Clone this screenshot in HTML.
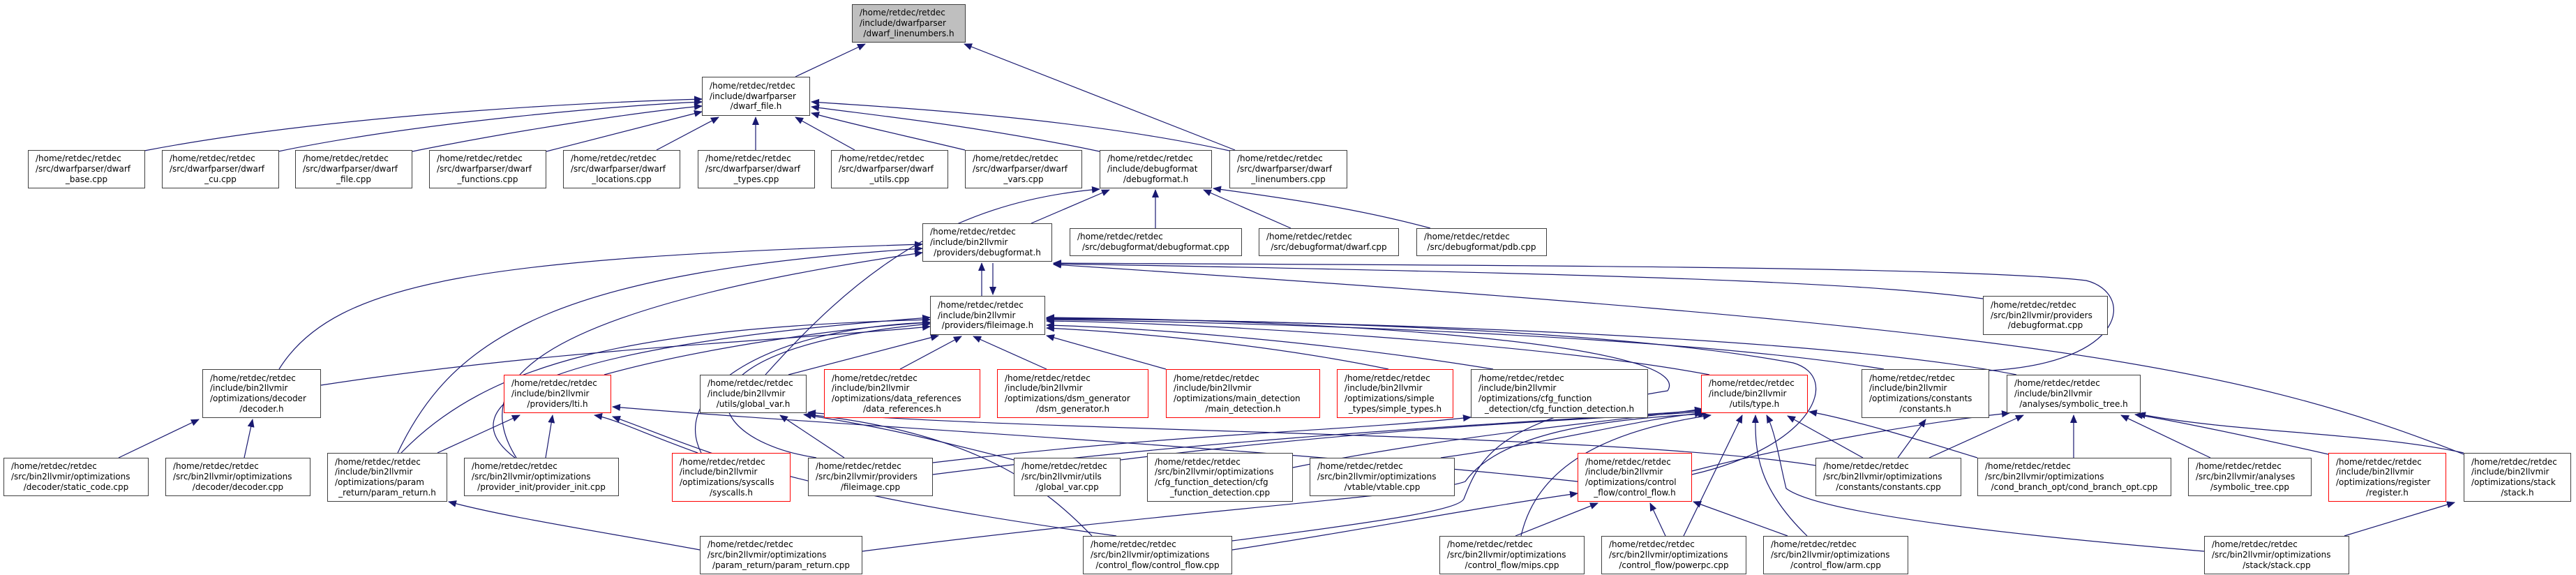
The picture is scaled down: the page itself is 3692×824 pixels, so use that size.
<!DOCTYPE html>
<html><head><meta charset="utf-8"><style>
body{margin:0;background:#fff;}
#c{position:relative;width:3692px;height:824px;overflow:hidden;background:#fff;font-family:"DejaVu Sans","Liberation Sans",sans-serif;font-size:12px;color:#000;}
.n{position:absolute;box-sizing:border-box;border:1px solid #404040;background:#fff;display:flex;flex-direction:column;justify-content:center;padding:0 10px;line-height:14.7px;white-space:nowrap;}
.n div:last-child{text-align:center;}
.r{border-color:#ff0000;}
.g{background:#bfbfbf;}
svg{position:absolute;left:0;top:0;}
</style></head><body><div id="c">
<svg width="3692" height="824" viewBox="0 0 3692 824">
<defs><marker id="a" markerWidth="12" markerHeight="10" refX="11" refY="5" orient="auto" markerUnits="userSpaceOnUse"><path d="M0,0 L12,5 L0,10 z" fill="#191970"/></marker></defs>
<g fill="none" stroke="#191970" stroke-width="1.2" marker-end="url(#a)">
<path d="M1140,110 L1240,63"/>
<path d="M1770,215 L1382,63"/>
<path d="M207,216 C500,160 900,145 1006,142"/>
<path d="M399,217 C600,175 900,150 1006,146"/>
<path d="M591,217 C750,185 920,160 1006,152"/>
<path d="M783,217 C870,195 960,172 1006,160"/>
<path d="M941,215 L1030,168"/>
<path d="M1083,215 L1083,168"/>
<path d="M1225,215 L1140,168"/>
<path d="M1383,215 C1300,195 1220,178 1163,162"/>
<path d="M1576,217 C1400,180 1250,165 1163,153"/>
<path d="M1762,216 C1550,170 1300,155 1163,146"/>
<path d="M1478,320 L1590,272"/>
<path d="M1656,327 L1656,272"/>
<path d="M1850,327 L1725,272"/>
<path d="M2050,327 C1950,300 1850,285 1739,270"/>
<path d="M1097,537 C1220,400 1350,290 1576,271"/>
<path d="M1407,424 L1407,377"/>
<path d="M1423,377 L1423,422"/>
<path d="M400,529 C480,400 700,370 1322,350"/>
<path d="M570,649 C650,480 800,390 1322,356"/>
<path d="M740,656 C680,560 720,450 1322,362"/>
<path d="M2842,428 C2700,410 2500,395 1510,378"/>
<path d="M2851,531 C3050,520 3060,420 2990,402 C2800,380 2000,380 1510,377"/>
<path d="M3531,651 C3200,520 2900,470 1510,379"/>
<path d="M460,552 C800,500 1100,490 1333,468"/>
<path d="M866,537 C1000,500 1200,470 1333,462"/>
<path d="M575,649 C700,520 900,470 1333,458"/>
<path d="M738,656 C650,590 720,500 1333,455"/>
<path d="M1005,649 C960,560 1100,470 1333,462"/>
<path d="M1170,656 C1000,630 950,500 1333,464"/>
<path d="M1130,537 L1345,481"/>
<path d="M1290,529 L1378,482"/>
<path d="M1500,529 L1395,482"/>
<path d="M1671,529 L1500,481"/>
<path d="M1990,529 C1800,490 1600,475 1500,470"/>
<path d="M2140,529 C1900,490 1650,470 1500,466"/>
<path d="M2450,537 C2200,490 1700,462 1500,460"/>
<path d="M2700,529 C2400,480 1800,462 1500,458"/>
<path d="M2890,537 C2600,480 1900,460 1500,456"/>
<path d="M2425,680 C2600,640 2640,540 2570,520 C2300,470 1800,458 1500,457"/>
<path d="M1766,775 C2000,745 2090,730 2098,715 C2120,660 2140,600 2390,560 C2430,500 2000,460 1500,455"/>
<path d="M1210,656 L1118,595"/>
<path d="M1453,659 C1300,620 1250,610 1152,594"/>
<path d="M1565,768 C1500,700 1400,620 1158,594"/>
<path d="M2602,667 C2300,620 1500,620 1158,591"/>
<path d="M627,649 L745,595"/>
<path d="M782,656 L792,595"/>
<path d="M1000,649 C920,620 880,600 852,595"/>
<path d="M1600,768 C1100,700 1000,640 878,597"/>
<path d="M2261,690 C1800,640 1200,610 878,583"/>
<path d="M2065,656 C2250,630 2350,600 2440,592"/>
<path d="M1606,659 C2000,610 2300,600 2440,590"/>
<path d="M1337,680 C1800,620 2300,600 2440,588"/>
<path d="M1853,670 C2100,620 2350,600 2440,586"/>
<path d="M1236,790 C1700,730 2050,710 2100,690 C2150,620 2300,600 2445,593"/>
<path d="M2180,768 C2200,680 2280,620 2452,595"/>
<path d="M2413,768 L2497,595"/>
<path d="M2590,768 C2520,700 2515,650 2516,595"/>
<path d="M3159,790 C2800,760 2600,730 2560,700 C2550,660 2545,620 2532,595"/>
<path d="M2670,656 L2562,596"/>
<path d="M2834,656 C2750,630 2650,600 2593,590"/>
<path d="M2172,768 L2290,721"/>
<path d="M2387,768 L2365,721"/>
<path d="M2562,768 L2427,719"/>
<path d="M1766,788 C1950,760 2100,730 2261,707"/>
<path d="M2972,656 L2972,595"/>
<path d="M3168,656 L3040,595"/>
<path d="M3337,651 C3200,620 3100,600 3060,594"/>
<path d="M3531,649 C3400,620 3200,620 3064,593"/>
<path d="M2765,656 L2900,595"/>
<path d="M2425,675 C2600,630 2800,600 2880,592"/>
<path d="M2720,656 L2760,601"/>
<path d="M170,656 L285,601"/>
<path d="M350,656 L362,601"/>
<path d="M1003,788 C850,760 720,740 643,719"/>
<path d="M3360,768 L3518,720"/>
<path d="M1337,663 C1700,620 1900,620 2108,598"/>
</g></svg>

<div class="n g" style="left:1221px;top:6px;width:163px;height:55px"><div>/home/retdec/retdec</div><div>/include/dwarfparser</div><div>/dwarf_linenumbers.h</div></div>
<div class="n" style="left:1006px;top:110px;width:155px;height:56px"><div>/home/retdec/retdec</div><div>/include/dwarfparser</div><div>/dwarf_file.h</div></div>
<div class="n" style="left:40px;top:215px;width:168px;height:55px"><div>/home/retdec/retdec</div><div>/src/dwarfparser/dwarf</div><div>_base.cpp</div></div>
<div class="n" style="left:232px;top:215px;width:168px;height:55px"><div>/home/retdec/retdec</div><div>/src/dwarfparser/dwarf</div><div>_cu.cpp</div></div>
<div class="n" style="left:423px;top:215px;width:168px;height:55px"><div>/home/retdec/retdec</div><div>/src/dwarfparser/dwarf</div><div>_file.cpp</div></div>
<div class="n" style="left:615px;top:215px;width:168px;height:55px"><div>/home/retdec/retdec</div><div>/src/dwarfparser/dwarf</div><div>_functions.cpp</div></div>
<div class="n" style="left:807px;top:215px;width:168px;height:55px"><div>/home/retdec/retdec</div><div>/src/dwarfparser/dwarf</div><div>_locations.cpp</div></div>
<div class="n" style="left:1000px;top:215px;width:168px;height:55px"><div>/home/retdec/retdec</div><div>/src/dwarfparser/dwarf</div><div>_types.cpp</div></div>
<div class="n" style="left:1191px;top:215px;width:168px;height:55px"><div>/home/retdec/retdec</div><div>/src/dwarfparser/dwarf</div><div>_utils.cpp</div></div>
<div class="n" style="left:1383px;top:215px;width:168px;height:55px"><div>/home/retdec/retdec</div><div>/src/dwarfparser/dwarf</div><div>_vars.cpp</div></div>
<div class="n" style="left:1576px;top:215px;width:161px;height:55px"><div>/home/retdec/retdec</div><div>/include/debugformat</div><div>/debugformat.h</div></div>
<div class="n" style="left:1762px;top:215px;width:169px;height:55px"><div>/home/retdec/retdec</div><div>/src/dwarfparser/dwarf</div><div>_linenumbers.cpp</div></div>
<div class="n" style="left:1322px;top:320px;width:186px;height:55px"><div>/home/retdec/retdec</div><div>/include/bin2llvmir</div><div>/providers/debugformat.h</div></div>
<div class="n" style="left:1533px;top:327px;width:247px;height:40px"><div>/home/retdec/retdec</div><div>/src/debugformat/debugformat.cpp</div></div>
<div class="n" style="left:1804px;top:327px;width:201px;height:40px"><div>/home/retdec/retdec</div><div>/src/debugformat/dwarf.cpp</div></div>
<div class="n" style="left:2030px;top:327px;width:187px;height:40px"><div>/home/retdec/retdec</div><div>/src/debugformat/pdb.cpp</div></div>
<div class="n" style="left:1333px;top:424px;width:165px;height:56px"><div>/home/retdec/retdec</div><div>/include/bin2llvmir</div><div>/providers/fileimage.h</div></div>
<div class="n" style="left:2842px;top:424px;width:179px;height:56px"><div>/home/retdec/retdec</div><div>/src/bin2llvmir/providers</div><div>/debugformat.cpp</div></div>
<div class="n" style="left:290px;top:529px;width:170px;height:70px"><div>/home/retdec/retdec</div><div>/include/bin2llvmir</div><div>/optimizations/decoder</div><div>/decoder.h</div></div>
<div class="n r" style="left:722px;top:537px;width:154px;height:55px"><div>/home/retdec/retdec</div><div>/include/bin2llvmir</div><div>/providers/lti.h</div></div>
<div class="n" style="left:1003px;top:537px;width:153px;height:55px"><div>/home/retdec/retdec</div><div>/include/bin2llvmir</div><div>/utils/global_var.h</div></div>
<div class="n r" style="left:1181px;top:529px;width:224px;height:70px"><div>/home/retdec/retdec</div><div>/include/bin2llvmir</div><div>/optimizations/data_references</div><div>/data_references.h</div></div>
<div class="n r" style="left:1429px;top:529px;width:217px;height:70px"><div>/home/retdec/retdec</div><div>/include/bin2llvmir</div><div>/optimizations/dsm_generator</div><div>/dsm_generator.h</div></div>
<div class="n r" style="left:1671px;top:529px;width:221px;height:70px"><div>/home/retdec/retdec</div><div>/include/bin2llvmir</div><div>/optimizations/main_detection</div><div>/main_detection.h</div></div>
<div class="n r" style="left:1916px;top:529px;width:167px;height:70px"><div>/home/retdec/retdec</div><div>/include/bin2llvmir</div><div>/optimizations/simple</div><div>_types/simple_types.h</div></div>
<div class="n" style="left:2108px;top:529px;width:254px;height:70px"><div>/home/retdec/retdec</div><div>/include/bin2llvmir</div><div>/optimizations/cfg_function</div><div>_detection/cfg_function_detection.h</div></div>
<div class="n r" style="left:2438px;top:537px;width:153px;height:55px"><div>/home/retdec/retdec</div><div>/include/bin2llvmir</div><div>/utils/type.h</div></div>
<div class="n" style="left:2668px;top:529px;width:183px;height:70px"><div>/home/retdec/retdec</div><div>/include/bin2llvmir</div><div>/optimizations/constants</div><div>/constants.h</div></div>
<div class="n" style="left:2876px;top:537px;width:192px;height:55px"><div>/home/retdec/retdec</div><div>/include/bin2llvmir</div><div>/analyses/symbolic_tree.h</div></div>
<div class="n" style="left:5px;top:656px;width:208px;height:55px"><div>/home/retdec/retdec</div><div>/src/bin2llvmir/optimizations</div><div>/decoder/static_code.cpp</div></div>
<div class="n" style="left:237px;top:656px;width:208px;height:55px"><div>/home/retdec/retdec</div><div>/src/bin2llvmir/optimizations</div><div>/decoder/decoder.cpp</div></div>
<div class="n" style="left:469px;top:649px;width:172px;height:70px"><div>/home/retdec/retdec</div><div>/include/bin2llvmir</div><div>/optimizations/param</div><div>_return/param_return.h</div></div>
<div class="n" style="left:665px;top:656px;width:222px;height:55px"><div>/home/retdec/retdec</div><div>/src/bin2llvmir/optimizations</div><div>/provider_init/provider_init.cpp</div></div>
<div class="n r" style="left:963px;top:649px;width:170px;height:70px"><div>/home/retdec/retdec</div><div>/include/bin2llvmir</div><div>/optimizations/syscalls</div><div>/syscalls.h</div></div>
<div class="n" style="left:1158px;top:656px;width:179px;height:55px"><div>/home/retdec/retdec</div><div>/src/bin2llvmir/providers</div><div>/fileimage.cpp</div></div>
<div class="n" style="left:1453px;top:656px;width:153px;height:55px"><div>/home/retdec/retdec</div><div>/src/bin2llvmir/utils</div><div>/global_var.cpp</div></div>
<div class="n" style="left:1644px;top:649px;width:209px;height:70px"><div>/home/retdec/retdec</div><div>/src/bin2llvmir/optimizations</div><div>/cfg_function_detection/cfg</div><div>_function_detection.cpp</div></div>
<div class="n" style="left:1877px;top:656px;width:208px;height:55px"><div>/home/retdec/retdec</div><div>/src/bin2llvmir/optimizations</div><div>/vtable/vtable.cpp</div></div>
<div class="n r" style="left:2261px;top:649px;width:164px;height:70px"><div>/home/retdec/retdec</div><div>/include/bin2llvmir</div><div>/optimizations/control</div><div>_flow/control_flow.h</div></div>
<div class="n" style="left:2602px;top:656px;width:209px;height:55px"><div>/home/retdec/retdec</div><div>/src/bin2llvmir/optimizations</div><div>/constants/constants.cpp</div></div>
<div class="n" style="left:2834px;top:656px;width:278px;height:55px"><div>/home/retdec/retdec</div><div>/src/bin2llvmir/optimizations</div><div>/cond_branch_opt/cond_branch_opt.cpp</div></div>
<div class="n" style="left:3136px;top:656px;width:177px;height:55px"><div>/home/retdec/retdec</div><div>/src/bin2llvmir/analyses</div><div>/symbolic_tree.cpp</div></div>
<div class="n r" style="left:3337px;top:649px;width:169px;height:70px"><div>/home/retdec/retdec</div><div>/include/bin2llvmir</div><div>/optimizations/register</div><div>/register.h</div></div>
<div class="n" style="left:3531px;top:649px;width:154px;height:70px"><div>/home/retdec/retdec</div><div>/include/bin2llvmir</div><div>/optimizations/stack</div><div>/stack.h</div></div>
<div class="n" style="left:1003px;top:768px;width:233px;height:55px"><div>/home/retdec/retdec</div><div>/src/bin2llvmir/optimizations</div><div>/param_return/param_return.cpp</div></div>
<div class="n" style="left:1552px;top:768px;width:214px;height:55px"><div>/home/retdec/retdec</div><div>/src/bin2llvmir/optimizations</div><div>/control_flow/control_flow.cpp</div></div>
<div class="n" style="left:2063px;top:768px;width:208px;height:55px"><div>/home/retdec/retdec</div><div>/src/bin2llvmir/optimizations</div><div>/control_flow/mips.cpp</div></div>
<div class="n" style="left:2295px;top:768px;width:208px;height:55px"><div>/home/retdec/retdec</div><div>/src/bin2llvmir/optimizations</div><div>/control_flow/powerpc.cpp</div></div>
<div class="n" style="left:2527px;top:768px;width:208px;height:55px"><div>/home/retdec/retdec</div><div>/src/bin2llvmir/optimizations</div><div>/control_flow/arm.cpp</div></div>
<div class="n" style="left:3159px;top:768px;width:208px;height:55px"><div>/home/retdec/retdec</div><div>/src/bin2llvmir/optimizations</div><div>/stack/stack.cpp</div></div>
</div></body></html>
